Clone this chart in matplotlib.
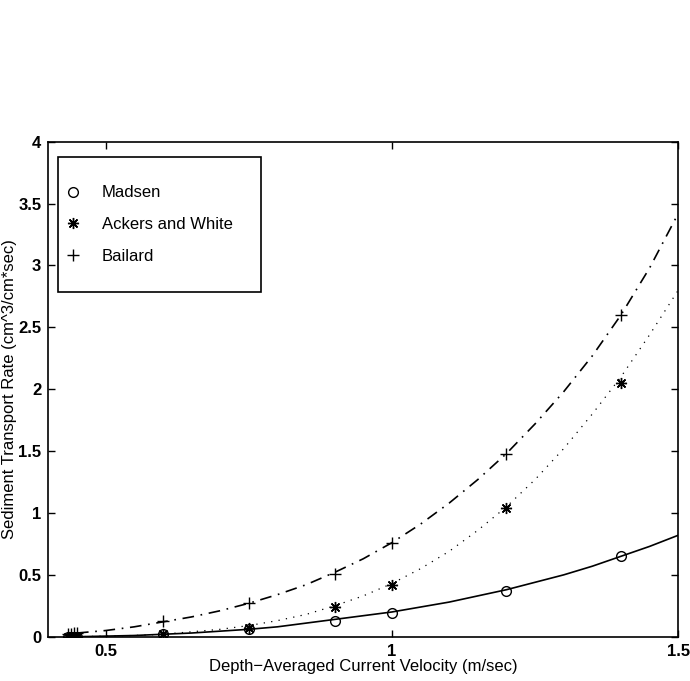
import matplotlib.pyplot as plt
from matplotlib.patches import Rectangle
from matplotlib.ticker import FuncFormatter

plt.rcParams['font.family'] = ['Liberation Sans', 'DejaVu Sans']

# Data
pt_x = [0.435, 0.44, 0.445, 0.45, 0.6, 0.75, 0.9, 1.0, 1.2, 1.4]
madsen_pts = [0.0, 0.0, 0.0, 0.0, 0.02, 0.06, 0.13, 0.19, 0.37, 0.65]
ackers_pts = [0.0, 0.0, 0.0, 0.0, 0.02, 0.07, 0.24, 0.42, 1.04, 2.05]
bailard_pts = [0.02, 0.02, 0.03, 0.03, 0.13, 0.27, 0.51, 0.76, 1.48, 2.60]

curve_x = [0.45, 0.50, 0.55, 0.60, 0.65, 0.70, 0.75, 0.80, 0.85, 0.90, 0.95,
           1.00, 1.05, 1.10, 1.15, 1.20, 1.25, 1.30, 1.35, 1.40, 1.45, 1.50]
madsen_fit = [0.0, 0.005, 0.01, 0.02, 0.03, 0.045, 0.06, 0.08, 0.11, 0.14, 0.17,
              0.20, 0.24, 0.28, 0.33, 0.38, 0.44, 0.50, 0.57, 0.65, 0.73, 0.82]
ackers_fit = [0.0, 0.005, 0.01, 0.02, 0.04, 0.06, 0.09, 0.13, 0.18, 0.25, 0.33,
              0.43, 0.55, 0.69, 0.86, 1.05, 1.27, 1.52, 1.80, 2.10, 2.44, 2.80]
bailard_fit = [0.03, 0.05, 0.08, 0.12, 0.16, 0.21, 0.27, 0.34, 0.42, 0.52, 0.63,
               0.76, 0.91, 1.08, 1.27, 1.48, 1.72, 1.98, 2.27, 2.60, 2.98, 3.42]

x_ticks = [0.5, 1.0, 1.5]
y_ticks = [0, 0.5, 1, 1.5, 2, 2.5, 3, 3.5, 4]

fig = plt.figure(figsize=(6.9, 6.81), dpi=100)
ax = fig.add_axes([0.070, 0.065, 0.913, 0.727])

# markers
ax.plot(pt_x, madsen_pts, 'o', color='black', mfc='none', ms=7, mew=1.0, label='Madsen')
ax.plot(pt_x, ackers_pts, marker=(8, 2, 0), ls='none', color='black', ms=8, mew=1.0,
        label='Ackers and White')
ax.plot(pt_x, bailard_pts, '+', color='black', ms=9, mew=1.0, label='Bailard')

# fitted curves
ax.plot(curve_x, madsen_fit, '-', color='black', lw=1.2)
ax.plot(curve_x, ackers_fit, color='black', lw=0.9, dashes=(1, 5))
ax.plot(curve_x, bailard_fit, color='black', lw=1.2, dashes=(7, 4, 1, 4))

ax.set_xlim(0.4, 1.5)
ax.set_ylim(0, 4)
ax.set_xticks(x_ticks)
ax.set_yticks(y_ticks)
fmt = FuncFormatter(lambda v, p: ('%g' % v))
ax.xaxis.set_major_formatter(fmt)
ax.yaxis.set_major_formatter(fmt)
ax.tick_params(direction='in', length=5, width=1, top=True, right=True,
               labelsize=12, pad=5)
for lab in ax.get_xticklabels() + ax.get_yticklabels():
    lab.set_fontweight('bold')
for spine in ax.spines.values():
    spine.set_linewidth(1.2)

ax.set_xlabel('Depth\u2212Averaged Current Velocity (m/sec)', fontsize=12, labelpad=0)
ax.set_ylabel('Sediment Transport Rate (cm^3/cm*sec)', fontsize=12, labelpad=1)

# legend box
ax.add_patch(Rectangle((0.016, 0.697), 0.321, 0.271, transform=ax.transAxes,
                       fill=False, edgecolor='black', lw=1.2, zorder=4))
ax.legend(loc='center left', bbox_to_anchor=(0.028, 0.8325), frameon=False,
          fontsize=12, borderpad=0, borderaxespad=0, handlelength=0.9,
          handletextpad=1.25, labelspacing=1.0)

fig.savefig('out.png', dpi=100)
